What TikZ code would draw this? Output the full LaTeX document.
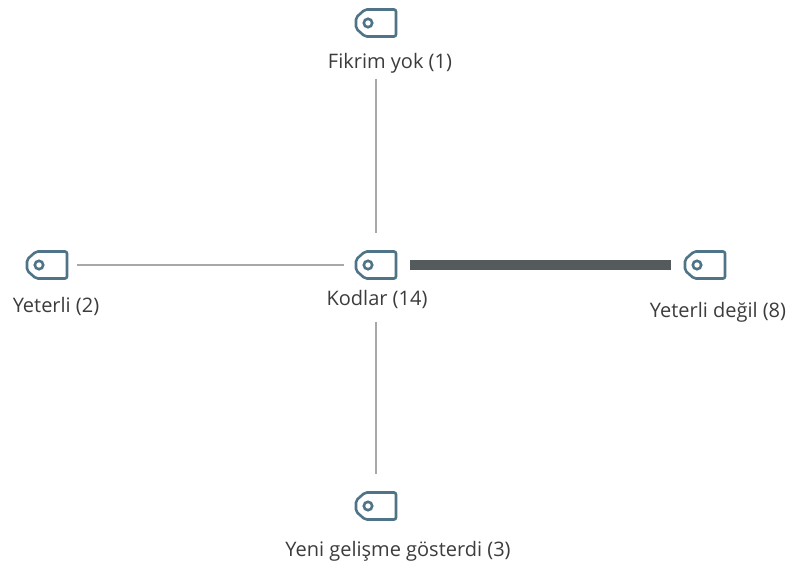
\documentclass[tikz,border=0pt]{standalone}
\usepackage{fontspec}
\setmainfont{Open Sans}
\usetikzlibrary{positioning}
\definecolor{tagcol}{HTML}{4f7488}
\definecolor{thickcol}{HTML}{555a5c}
\definecolor{thincol}{HTML}{a8a8a8}
\definecolor{labelcol}{HTML}{3c3c3c}

\begin{document}
\begin{tikzpicture}[x=1pt,y=-1pt,
tagbox/.style = {shape=rectangle, inner sep=0pt, minimum width=44pt, minimum height=31pt,
  path picture={
    \draw[tagcol, line width=2.6pt, rounded corners=2pt]
      ([shift={(-2pt,2pt)}]path picture bounding box.south east)
      -- ([shift={(-2pt,-2pt)}]path picture bounding box.north east)
      -- ([shift={(11pt,-2pt)}]path picture bounding box.north west)
      -- ([shift={(2pt,-10pt)}]path picture bounding box.north west)
      -- ([shift={(2pt,10pt)}]path picture bounding box.south west)
      -- ([shift={(11pt,2pt)}]path picture bounding box.south west)
      -- cycle;
    \draw[tagcol, line width=2.6pt]
      ([xshift=14pt]path picture bounding box.west) circle[radius=4.2pt];
  }},
taglabel/.style = {text=labelcol, inner sep=0pt, font=\fontsize{20}{24}\selectfont},
thinline/.style = {draw=thincol, line width=1.4pt},
thickline/.style = {draw=thickcol, line width=10pt}
]
\useasboundingbox (0,0) rectangle (787,565);
\node[tagbox] (kodlar) at (376,265) {};
\node[tagbox] (fikrim) at (376,23) {};
\node[tagbox] (yeterli) at (47,265) {};
\node[tagbox] (degil) at (705,265) {};
\node[tagbox] (yeni) at (376,506) {};

\node[taglabel, below=9pt of kodlar, xshift=1pt] (kodlarlabel) {Kodlar (14)};
\node[taglabel, below=14pt of fikrim, xshift=14pt] (fikrimlabel) {Fikrim yok (1)};
\node[taglabel, below=16pt of yeterli, xshift=9pt] (yeterlilabel) {Yeterli (2)};
\node[taglabel, below=21pt of degil, xshift=13pt] (degillabel) {Yeterli değil (8)};
\node[taglabel, below=19pt of yeni, xshift=22pt] (yenilabel) {Yeni gelişme gösterdi (3)};

\draw[thinline, shorten <=40pt, shorten >=16pt] (fikrim) -- (kodlar);
\draw[thinline, shorten <=8pt, shorten >=10pt] (yeterli) -- (kodlar);
\draw[thinline, shorten <=41pt, shorten >=16pt] (kodlar) -- (yeni);
\draw[thickline, shorten <=12pt, shorten >=12pt] (kodlar) -- (degil);

\end{tikzpicture}
\end{document}
